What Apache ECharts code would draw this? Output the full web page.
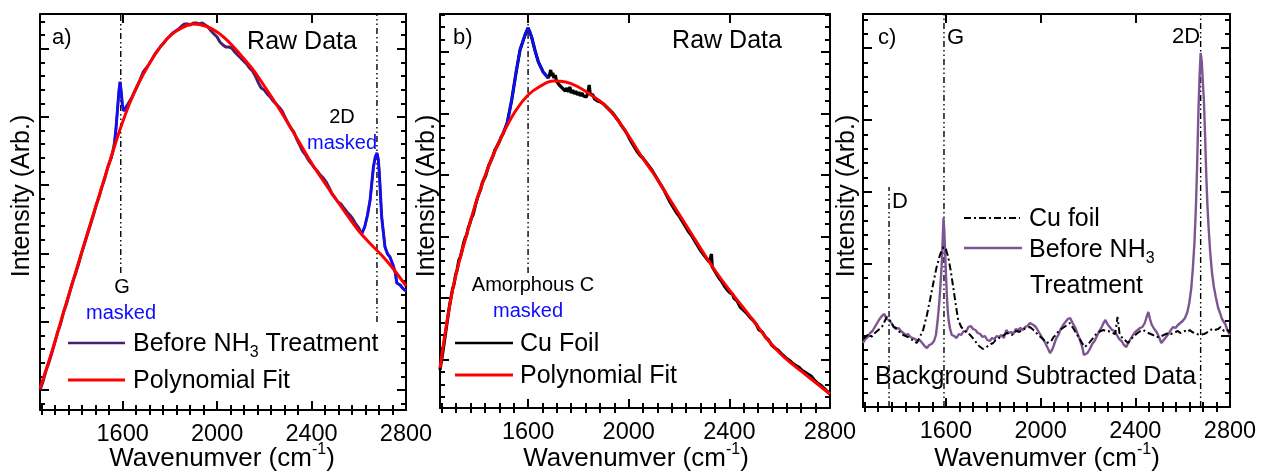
<!DOCTYPE html>
<html><head><meta charset="utf-8">
<script src="https://cdn.jsdelivr.net/npm/echarts@6/dist/echarts.min.js"></script>
<style>html,body{margin:0;padding:0;background:#fff}#c{width:1262px;height:472px}</style>
</head><body><div id="c"></div>
<script>
// ---------- data ----------
const xTickLabels = [1600, 2000, 2400, 2800];

// Panel a: raw spectrum "Before NH3 Treatment" and its polynomial background fit
const rawA = [[1250,20],[1262,28],[1275,39],[1287,47],[1300,57],[1312,67],[1325,78],[1337,86],[1350,98],[1362,106],[1375,117],[1387,127],[1400,136],[1412,145],[1425,156],[1437,165],[1450,175],[1462,184],[1475,194],[1487,204],[1500,213],[1512,223],[1525,232],[1537,243],[1550,251],[1558,258],[1566,268],[1572,282],[1578,300],[1584,318],[1589,328],[1594,318],[1599,305],[1605,299],[1612,300],[1620,305],[1630,309],[1640,313],[1650,318],[1662,324],[1675,331],[1687,338],[1700,342],[1712,346],[1725,351],[1737,356],[1750,360],[1762,364],[1775,367],[1787,371],[1800,374],[1812,377],[1825,379],[1837,381],[1850,384],[1862,386],[1875,386],[1887,385],[1900,387],[1912,387],[1925,386],[1937,387],[1950,385],[1962,383],[1975,379],[1987,376],[2000,373],[2012,368],[2025,365],[2037,363],[2050,363],[2062,362],[2075,358],[2087,355],[2100,352],[2112,349],[2125,346],[2137,342],[2150,339],[2162,334],[2175,327],[2187,322],[2200,320],[2212,316],[2225,313],[2237,309],[2250,306],[2262,303],[2275,299],[2287,293],[2300,287],[2312,282],[2325,278],[2337,271],[2350,265],[2362,259],[2375,255],[2387,250],[2400,246],[2412,242],[2425,239],[2437,235],[2450,232],[2462,228],[2475,222],[2487,216],[2500,212],[2512,208],[2525,206],[2537,202],[2550,198],[2562,195],[2575,191],[2587,186],[2600,182],[2612,176],[2625,183],[2637,195],[2648,210],[2662,243],[2670,253],[2677,257],[2683,250],[2687,237],[2697,193],[2711,163],[2722,156],[2732,153],[2745,145],[2755,137],[2761,127],[2775,125],[2785,122],[2800,119]];
const fitA = [[1250,22],[1300,58],[1350,98],[1400,137],[1450,176],[1500,214],[1550,252],[1600,288],[1650,318],[1700,341],[1750,360],[1800,374],[1850,382],[1900,386],[1950,384],[2000,378],[2050,368],[2100,355],[2150,341],[2200,324],[2250,306],[2300,287],[2350,267],[2400,247],[2450,229],[2500,212],[2550,195],[2600,179],[2650,166],[2700,154],[2750,140],[2800,124]];
const maskA = [[1560,1625],[2605,2800]];
const bandLinesA = [[1592,137,396],[2677,88,396]];

// Panel b: raw Cu foil spectrum and its polynomial fit
const rawB = [[1250,38],[1262,57],[1275,80],[1287,101],[1300,119],[1306,124],[1312,133],[1318,138],[1325,148],[1331,151],[1337,157],[1343,164],[1350,170],[1356,173],[1362,180],[1368,184],[1375,190],[1381,193],[1387,199],[1393,205],[1400,211],[1406,213],[1412,219],[1418,225],[1425,229],[1431,232],[1437,237],[1443,242],[1450,246],[1456,248],[1462,253],[1468,258],[1475,261],[1481,263],[1487,267],[1493,271],[1500,274],[1517,285],[1535,308],[1552,335],[1568,358],[1588,373],[1600,380],[1607,376],[1614,371],[1627,358],[1641,346],[1660,336],[1680,330],[1686,334],[1690,338],[1694,332],[1698,335],[1703,330],[1708,333],[1713,327],[1718,329],[1724,323],[1730,325],[1736,320],[1742,322],[1748,317],[1754,320],[1760,316],[1766,321],[1772,315],[1778,318],[1784,314],[1790,317],[1796,313],[1802,316],[1808,312],[1814,315],[1820,312],[1826,314],[1832,311],[1838,316],[1843,323],[1847,314],[1852,312],[1858,313],[1864,309],[1870,311],[1876,307],[1882,309],[1888,306],[1894,307],[1900,304],[1906,305],[1912,301],[1918,302],[1924,298],[1930,299],[1936,295],[1942,296],[1948,291],[1954,290],[1960,287],[1966,286],[1972,282],[1978,282],[1984,278],[1990,277],[1996,273],[2002,272],[2008,267],[2014,267],[2020,262],[2026,263],[2032,257],[2038,258],[2044,253],[2050,255],[2056,250],[2062,251],[2068,246],[2074,247],[2080,242],[2086,243],[2092,238],[2098,238],[2104,233],[2110,233],[2116,228],[2122,228],[2128,223],[2134,223],[2140,218],[2146,218],[2152,212],[2158,212],[2164,206],[2170,207],[2176,201],[2182,202],[2188,196],[2194,197],[2200,192],[2206,192],[2212,187],[2218,188],[2224,182],[2230,183],[2236,177],[2242,178],[2248,173],[2254,173],[2260,168],[2266,168],[2272,163],[2278,163],[2284,158],[2290,158],[2296,154],[2302,153],[2308,150],[2314,148],[2320,146],[2326,144],[2329,154],[2332,141],[2338,139],[2344,136],[2350,135],[2356,131],[2362,130],[2368,127],[2374,126],[2380,122],[2386,122],[2392,118],[2398,118],[2404,115],[2412,114],[2418,110],[2425,109],[2431,107],[2437,105],[2443,101],[2450,102],[2456,98],[2462,97],[2468,95],[2475,94],[2481,91],[2487,90],[2493,88],[2500,86],[2506,84],[2512,82],[2518,78],[2525,77],[2531,76],[2537,74],[2543,71],[2550,70],[2556,68],[2562,66],[2568,63],[2575,63],[2581,60],[2587,59],[2593,58],[2600,56],[2612,53],[2625,50],[2637,48],[2650,45],[2662,43],[2675,41],[2687,38],[2700,36],[2712,34],[2725,32],[2737,28],[2750,25],[2762,23],[2775,20],[2787,17],[2800,14]];
const fitB = [[1250,40],[1275,82],[1300,118],[1325,145],[1350,168],[1400,211],[1450,246],[1500,274],[1550,297],[1600,313],[1650,322],[1700,327],[1750,326],[1800,321],[1850,313],[1900,304],[1950,290],[2000,272],[2050,252],[2100,234],[2150,214],[2200,194],[2250,174],[2300,154],[2350,135],[2400,118],[2450,102],[2500,86],[2550,69],[2600,55],[2650,44],[2700,34],[2750,24],[2800,14]];
const maskB = [[1495,1682]];
const bandLinesB = [[1600,135,384]];

// Panel c: background subtracted spectra
const beforeC = [[1250,64],[1260,68],[1270,70],[1280,74],[1290,76],[1300,80],[1310,84],[1320,88],[1330,91],[1340,93],[1350,88],[1360,87],[1370,84],[1380,80],[1390,78],[1400,79],[1410,76],[1420,74],[1430,72],[1440,73],[1450,70],[1460,69],[1470,68],[1480,66],[1490,67],[1500,64],[1510,61],[1520,59],[1530,62],[1540,63],[1550,66],[1558,72],[1565,86],[1572,104],[1578,125],[1583,145],[1587,170],[1590,189],[1593,178],[1596,160],[1600,135],[1604,112],[1608,96],[1612,86],[1618,78],[1625,72],[1635,71],[1645,69],[1655,73],[1665,72],[1675,76],[1685,75],[1695,80],[1705,81],[1715,78],[1725,77],[1735,74],[1745,73],[1755,70],[1765,71],[1775,67],[1785,66],[1795,69],[1805,68],[1815,71],[1825,70],[1835,72],[1845,69],[1855,77],[1865,74],[1875,75],[1885,73],[1895,78],[1905,77],[1915,79],[1925,77],[1935,80],[1945,81],[1955,84],[1962,86],[1970,82],[1980,80],[1990,76],[2000,72],[2010,68],[2020,64],[2030,59],[2040,54],[2048,57],[2055,61],[2065,68],[2075,72],[2085,78],[2095,82],[2105,85],[2115,88],[2125,89],[2135,84],[2145,80],[2155,74],[2165,68],[2175,61],[2183,52],[2190,50],[2198,54],[2208,58],[2218,63],[2228,66],[2238,71],[2248,76],[2258,80],[2266,84],[2274,87],[2282,83],[2292,80],[2302,77],[2312,76],[2322,72],[2332,68],[2342,66],[2352,62],[2362,60],[2370,64],[2380,68],[2390,72],[2400,75],[2410,77],[2420,79],[2430,80],[2440,84],[2448,90],[2455,95],[2462,88],[2470,82],[2480,78],[2490,75],[2500,70],[2510,64],[2520,67],[2530,70],[2540,73],[2550,77],[2560,80],[2570,79],[2580,82],[2590,84],[2600,86],[2610,89],[2620,95],[2628,104],[2636,118],[2643,138],[2650,165],[2656,200],[2661,240],[2666,290],[2671,328],[2676,354],[2681,345],[2686,322],[2690,305],[2695,270],[2700,230],[2705,200],[2710,178],[2716,156],[2724,134],[2732,120],[2740,110],[2750,99],[2758,94],[2766,88],[2772,90],[2780,83],[2790,76],[2800,72]];
const cuFoilC = [[1250,68],[1260,70],[1270,72],[1280,70],[1290,71],[1300,74],[1310,76],[1320,78],[1330,80],[1340,85],[1350,90],[1365,86],[1380,80],[1390,79],[1400,76],[1410,74],[1420,72],[1430,71],[1440,70],[1450,68],[1460,67],[1468,65],[1477,64],[1490,70],[1504,77],[1520,92],[1533,107],[1547,124],[1561,140],[1575,152],[1590,160],[1600,158],[1610,150],[1620,137],[1631,120],[1642,102],[1652,87],[1665,80],[1680,76],[1695,74],[1710,70],[1720,67],[1730,64],[1740,61],[1748,60],[1757,58],[1765,56],[1772,60],[1780,62],[1790,63],[1800,64],[1810,67],[1820,68],[1830,70],[1840,71],[1848,73],[1857,74],[1868,73],[1880,72],[1890,75],[1900,76],[1910,75],[1920,77],[1930,78],[1940,79],[1955,80],[1965,78],[1975,76],[1990,72],[2000,70],[2010,68],[2018,66],[2026,64],[2035,65],[2045,66],[2055,70],[2065,72],[2073,75],[2082,77],[2090,79],[2100,80],[2112,82],[2124,84],[2132,81],[2140,78],[2150,74],[2160,70],[2168,67],[2175,64],[2181,62],[2187,60],[2195,62],[2205,64],[2215,67],[2225,70],[2235,73],[2245,75],[2255,76],[2265,77],[2275,76],[2285,76],[2295,75],[2305,74],[2315,73],[2320,74],[2325,90],[2329,88],[2333,74],[2342,70],[2350,68],[2360,66],[2370,64],[2380,67],[2390,70],[2400,72],[2410,74],[2422,76],[2434,77],[2445,75],[2455,74],[2465,73],[2475,72],[2490,70],[2504,70],[2512,71],[2520,72],[2530,73],[2540,74],[2550,73],[2559,74],[2570,75],[2580,76],[2590,74],[2600,75],[2610,76],[2620,75],[2630,77],[2640,75],[2650,74],[2660,73],[2672,72],[2680,71],[2690,73],[2700,74],[2710,76],[2718,75],[2725,78],[2735,77],[2742,79],[2750,78],[2760,80],[2768,78],[2775,76],[2783,78],[2791,77],[2800,74]];
const bandLinesC = [[1360,0,220],[1592,0,393],[2676,0,393]];

// ---------- style / layout ----------
const F = 'Liberation Sans, Arial, sans-serif';
const PURPLE_A = '#4a1f6e';
const PURPLE_C = '#7d5592';
const BLUE = '#0d0dff';
const RED = '#ff0000';
const grids = [
  {left: 40, top: 14, width: 366, height: 396},
  {left: 440, top: 14, width: 390, height: 394},
  {left: 863, top: 14, width: 367, height: 393}
];
const yScale = [ {max: 396, first: 61, step: 68.25}, {max: 394, first: 36, step: 61.6}, {max: 393, first: 0, step: 71.75} ];
const X_MIN = 1250, X_MAX = 2800;

function xMinorTicks() {
  const out = [];
  for (let k = 1; ; k++) {
    const v = 2800 - k * 400 / 7;
    if (v <= X_MIN) break;
    if (k % 7 !== 0) out.push(v);
  }
  return out;
}
function yTicks(s) {
  const major = [], minor = [];
  const ms = s.step / 5;
  let start = s.first;
  while (start - ms > 0) start -= ms;
  let i = Math.round((s.first - start) / ms);
  for (let v = start; v < s.max; v += ms, i++) {
    if (v <= 0.5) continue;
    if (((i % 5) + 5) % 5 === 0) major.push(v); else minor.push(v);
  }
  return {major, minor};
}
const xMinor = xMinorTicks();

const xAxis = [], yAxis = [];
grids.forEach((g, gi) => {
  const baseX = {gridIndex: gi, type: 'value', min: X_MIN, max: X_MAX, splitLine: {show: false}};
  const line = {show: true, onZero: false, lineStyle: {color: '#000', width: 2}};
  xAxis.push(Object.assign({}, baseX, {position: 'bottom', axisLine: line,
    axisTick: {show: true, inside: true, length: 9, customValues: xTickLabels, lineStyle: {color: '#000', width: 2}},
    axisLabel: {show: true, customValues: xTickLabels, margin: 13, color: '#000', fontSize: 23.5, fontFamily: F,
      formatter: v => String(v)}}));
  xAxis.push(Object.assign({}, baseX, {position: 'bottom', axisLine: {show: false},
    axisTick: {show: true, inside: true, length: 5, customValues: xMinor, lineStyle: {color: '#000', width: 2}},
    axisLabel: {show: false}}));
  xAxis.push(Object.assign({}, baseX, {position: 'top', axisLine: line,
    axisTick: {show: true, inside: true, length: 9, customValues: xTickLabels, lineStyle: {color: '#000', width: 2}},
    axisLabel: {show: false}}));
  xAxis.push(Object.assign({}, baseX, {position: 'top', axisLine: {show: false},
    axisTick: {show: true, inside: true, length: 5, customValues: xMinor, lineStyle: {color: '#000', width: 2}},
    axisLabel: {show: false}}));
  const yt = yTicks(yScale[gi]);
  const baseY = {gridIndex: gi, type: 'value', min: 0, max: yScale[gi].max, splitLine: {show: false}, axisLabel: {show: false}};
  ['left', 'right'].forEach(pos => {
    yAxis.push(Object.assign({}, baseY, {position: pos, axisLine: line,
      axisTick: {show: true, inside: true, length: 9, customValues: yt.major, lineStyle: {color: '#000', width: 2}}}));
    yAxis.push(Object.assign({}, baseY, {position: pos, axisLine: {show: false},
      axisTick: {show: true, inside: true, length: 5, customValues: yt.minor, lineStyle: {color: '#000', width: 2}}}));
  });
});

const series = [];
function addLine(gi, data, style, z, smooth) {
  series.push({type: 'line', xAxisIndex: gi * 4, yAxisIndex: gi * 4, data: data, symbol: 'none',
    smooth: smooth || false, lineStyle: style, z: z, silent: true, animation: false});
}
function masked(raw, ranges) {
  return ranges.map(r => raw.filter(p => p[0] >= r[0] && p[0] <= r[1]));
}
function bandLines(gi, list) {
  list.forEach(b => addLine(gi, [[b[0], b[1]], [b[0], b[2]]],
    {color: '#000', width: 1.4, type: [6, 3, 1.5, 3, 1.5, 3]}, 1));
}
// panel a
bandLines(0, bandLinesA);
addLine(0, rawA, {color: PURPLE_A, width: 3}, 2);
masked(rawA, maskA).forEach(seg => addLine(0, seg, {color: BLUE, width: 2.4}, 3));
addLine(0, fitA, {color: RED, width: 3}, 4, 0.4);
// panel b
bandLines(1, bandLinesB);
addLine(1, rawB, {color: '#000', width: 3.2}, 2);
masked(rawB, maskB).forEach(seg => addLine(1, seg, {color: BLUE, width: 2.6}, 3));
addLine(1, fitB, {color: RED, width: 3}, 4, 0.4);
// panel c
bandLines(2, bandLinesC);
addLine(2, beforeC, {color: PURPLE_C, width: 2.4}, 2);
addLine(2, cuFoilC, {color: '#000', width: 2, type: [7, 3, 2, 3]}, 3);

// ---------- annotations ----------
function txt(x, y, text, size, opts) {
  return Object.assign({type: 'text', x: x, y: y, z: 50, silent: true,
    style: Object.assign({text: text, fill: '#000', font: size + 'px ' + F, textAlign: 'left', textVerticalAlign: 'middle'}, (opts && opts.style) || {})},
    (opts && opts.el) || {});
}
function richTxt(x, y, text, size, align, extra) {
  return Object.assign({type: 'text', x: x, y: y, z: 50, silent: true,
    style: {text: text, textAlign: align, textVerticalAlign: 'middle',
      rich: {
        n: {fontSize: size, fontFamily: F, color: '#000', lineHeight: 34},
        s: {fontSize: Math.round(size * 0.62), fontFamily: F, color: '#000', lineHeight: 15, verticalAlign: 'bottom'},
        u: {fontSize: Math.round(size * 0.62), fontFamily: F, color: '#000', lineHeight: 14, verticalAlign: 'top'}
      }}}, extra || {});
}
function seg(x1, x2, y, color, width, dash) {
  return {type: 'line', z: 50, silent: true, shape: {x1: x1, y1: y, x2: x2, y2: y},
    style: {stroke: color, lineWidth: width, lineDash: dash || null}};
}
const xName = '{n|Wavenumver (cm}{u|-1}{n|)}';
const BIG = 25;
const graphic = [
  // panel a
  txt(52, 38, 'a)', 22),
  txt(302, 42, 'Raw Data', BIG, {style: {textAlign: 'center'}}),
  txt(342, 117, '2D', 20, {style: {textAlign: 'center'}}),
  txt(342, 143, 'masked', 20, {style: {textAlign: 'center', fill: BLUE}}),
  txt(122, 287, 'G', 20, {style: {textAlign: 'center'}}),
  txt(121, 313, 'masked', 20, {style: {textAlign: 'center', fill: BLUE}}),
  seg(68, 125, 343, PURPLE_A, 2.4),
  richTxt(133, 344, '{n|Before NH}{s|3}{n| Treatment}', BIG, 'left'),
  seg(68, 125, 380, RED, 3),
  txt(133, 381, 'Polynomial Fit', BIG),
  // panel b
  txt(453, 38, 'b)', 22),
  txt(727, 41, 'Raw Data', BIG, {style: {textAlign: 'center'}}),
  txt(533, 285, 'Amorphous C', 20, {style: {textAlign: 'center'}}),
  txt(528, 311, 'masked', 20, {style: {textAlign: 'center', fill: BLUE}}),
  seg(455, 513, 343, '#000', 2.4),
  txt(520, 344, 'Cu Foil', BIG),
  seg(455, 513, 375, RED, 3),
  txt(520, 376, 'Polynomial Fit', BIG),
  // panel c
  txt(878, 38, 'c)', 22),
  txt(947, 38, 'G', 22),
  txt(1172, 37, '2D', 22),
  txt(892, 202, 'D', 22),
  seg(964, 1020, 218, '#000', 2, [7, 3, 2, 3]),
  txt(1029, 219, 'Cu foil', BIG),
  seg(964, 1022, 248, PURPLE_C, 2.4),
  richTxt(1029, 250, '{n|Before NH}{s|3}', BIG, 'left'),
  txt(1030, 286, 'Treatment', BIG),
  txt(875, 377, 'Background Subtracted Data', BIG),
  // axis titles
  txt(22, 196, 'Intensity (Arb.)', BIG, {style: {textAlign: 'center'}, el: {rotation: Math.PI / 2}}),
  txt(427, 196, 'Intensity (Arb.)', BIG, {style: {textAlign: 'center'}, el: {rotation: Math.PI / 2}}),
  txt(847, 196, 'Intensity (Arb.)', BIG, {style: {textAlign: 'center'}, el: {rotation: Math.PI / 2}}),
  richTxt(222, 459, xName, 26, 'center'),
  richTxt(636, 459, xName, 26, 'center'),
  richTxt(1047, 459, xName, 26, 'center')
];

const chart = echarts.init(document.getElementById('c'), null, {renderer: 'canvas'});
chart.setOption({
  animation: false,
  backgroundColor: '#fff',
  grid: grids,
  xAxis: xAxis,
  yAxis: yAxis,
  series: series,
  graphic: graphic
});
</script>
</body></html>
